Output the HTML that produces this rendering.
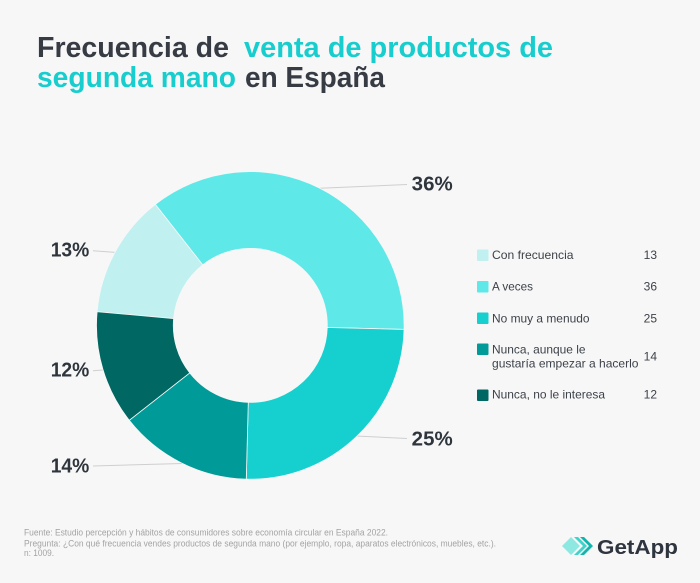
<!DOCTYPE html>
<html>
<head>
<meta charset="utf-8">
<style>
  html,body{margin:0;padding:0;background:#f7f7f7;}
  svg{display:block;}
  text{font-family:"Liberation Sans",sans-serif;}
</style>
</head>
<body>
<svg width="700" height="583" viewBox="0 0 700 583" xmlns="http://www.w3.org/2000/svg">
  <rect x="0" y="0" width="700" height="583" fill="#f7f7f7"/>

  <!-- Title -->
  <g font-weight="bold" font-size="28.5">
    <text x="37" y="57" fill="#363b44" textLength="192" lengthAdjust="spacingAndGlyphs">Frecuencia de</text>
    <text x="244" y="57" fill="#17cdcd" textLength="309" lengthAdjust="spacingAndGlyphs">venta de productos de</text>
    <text x="37" y="87" fill="#17cdcd" textLength="199" lengthAdjust="spacingAndGlyphs">segunda mano</text>
    <text x="245" y="87" fill="#363b44" textLength="140" lengthAdjust="spacingAndGlyphs">en España</text>
  </g>

  <!-- Leader lines -->
  <g stroke="#cfcfcf" stroke-width="1" fill="none">
    <line x1="320" y1="188.3" x2="407" y2="184.5"/>
    <line x1="356" y1="436" x2="407" y2="438.5"/>
    <line x1="93" y1="250.7" x2="117" y2="252.5"/>
    <line x1="93" y1="370.7" x2="103" y2="370"/>
    <line x1="93" y1="466" x2="182" y2="463.5"/>
  </g>

  <!-- Donut -->
  <g stroke="#f7f7f7" stroke-width="0.8" stroke-linejoin="round">
    <!-- Con frecuencia 13 -->
    <path d="M97.11,311.73 A153.8,153.8 0 0 1 155.40,204.37 L202.79,264.81 A77,77 0 0 0 173.60,318.56 Z" fill="#c0f0f0"/>
    <!-- A veces 36 -->
    <path d="M155.40,204.37 A153.8,153.8 0 0 1 404.05,329.43 L327.27,327.42 A77,77 0 0 0 202.79,264.81 Z" fill="#5fe8e8"/>
    <!-- No muy a menudo 25 -->
    <path d="M404.05,329.43 A153.8,153.8 0 0 1 246.27,479.15 L248.28,402.37 A77,77 0 0 0 327.27,327.42 Z" fill="#16cfcf"/>
    <!-- Nunca, aunque 14 -->
    <path d="M246.27,479.15 A153.8,153.8 0 0 1 129.27,420.30 L189.71,372.91 A77,77 0 0 0 248.28,402.37 Z" fill="#009b98"/>
    <!-- Nunca, no 12 -->
    <path d="M129.27,420.30 A153.8,153.8 0 0 1 97.11,311.73 L173.60,318.56 A77,77 0 0 0 189.71,372.91 Z" fill="#006762"/>
  </g>

  <!-- Percent labels -->
  <g font-weight="bold" font-size="20" fill="#2f353d">
    <text x="411.7" y="190.7" textLength="41" lengthAdjust="spacingAndGlyphs">36%</text>
    <text x="411.7" y="445.7" textLength="41" lengthAdjust="spacingAndGlyphs">25%</text>
    <text x="50.7" y="256.7" textLength="38.6" lengthAdjust="spacingAndGlyphs">13%</text>
    <text x="50.7" y="376.7" textLength="38.6" lengthAdjust="spacingAndGlyphs">12%</text>
    <text x="50.7" y="472.3" textLength="38.6" lengthAdjust="spacingAndGlyphs">14%</text>
  </g>

  <!-- Legend -->
  <g>
    <rect x="477" y="249.5" width="11.5" height="11.5" rx="1" fill="#c0f0f0"/>
    <rect x="477" y="281" width="11.5" height="11.5" rx="1" fill="#5fe8e8"/>
    <rect x="477" y="312.5" width="11.5" height="11.5" rx="1" fill="#16cfcf"/>
    <rect x="477" y="343.5" width="11.5" height="11.5" rx="1" fill="#009b98"/>
    <rect x="477" y="389.5" width="11.5" height="11.5" rx="1" fill="#006762"/>
  </g>
  <g font-size="12" fill="#3d424a">
    <text x="492" y="259" textLength="81.5" lengthAdjust="spacingAndGlyphs">Con frecuencia</text>
    <text x="492" y="290.7" textLength="41" lengthAdjust="spacingAndGlyphs">A veces</text>
    <text x="492" y="322.3" textLength="97.5" lengthAdjust="spacingAndGlyphs">No muy a menudo</text>
    <text x="492" y="353.3" textLength="93.5" lengthAdjust="spacingAndGlyphs">Nunca, aunque le</text>
    <text x="492" y="367.3" textLength="146.5" lengthAdjust="spacingAndGlyphs">gustaría empezar a hacerlo</text>
    <text x="492" y="398.3" textLength="113" lengthAdjust="spacingAndGlyphs">Nunca, no le interesa</text>
  </g>
  <g font-size="12" fill="#3d424a" text-anchor="end">
    <text x="657" y="259">13</text>
    <text x="657" y="290.7">36</text>
    <text x="657" y="322.3">25</text>
    <text x="657" y="360.5">14</text>
    <text x="657" y="398.3">12</text>
  </g>

  <!-- Footer -->
  <g font-size="9" fill="#a3a3a3">
    <text x="24" y="535.5" textLength="364" lengthAdjust="spacingAndGlyphs">Fuente: Estudio percepción y hábitos de consumidores sobre economía circular en España 2022.</text>
    <text x="24" y="546.5" textLength="472" lengthAdjust="spacingAndGlyphs">Pregunta: ¿Con qué frecuencia vendes productos de segunda mano (por ejemplo, ropa, aparatos electrónicos, muebles, etc.).</text>
    <text x="24" y="556" textLength="30" lengthAdjust="spacingAndGlyphs">n: 1009.</text>
  </g>

  <!-- GetApp logo -->
  <g>
    <polygon points="562,546 571,537 580,546 571,555" fill="#8ee8e2"/>
    <polygon points="574,537 578,537 587,546 578,555 574,555 583,546" fill="#3fd3cc"/>
    <polygon points="580,537 584,537 593,546 584,555 580,555 589,546" fill="#10b5ad"/>
    <text x="597" y="554" font-size="20" font-weight="bold" fill="#2e353e" textLength="81" lengthAdjust="spacingAndGlyphs">GetApp</text>
  </g>
</svg>
</body>
</html>
